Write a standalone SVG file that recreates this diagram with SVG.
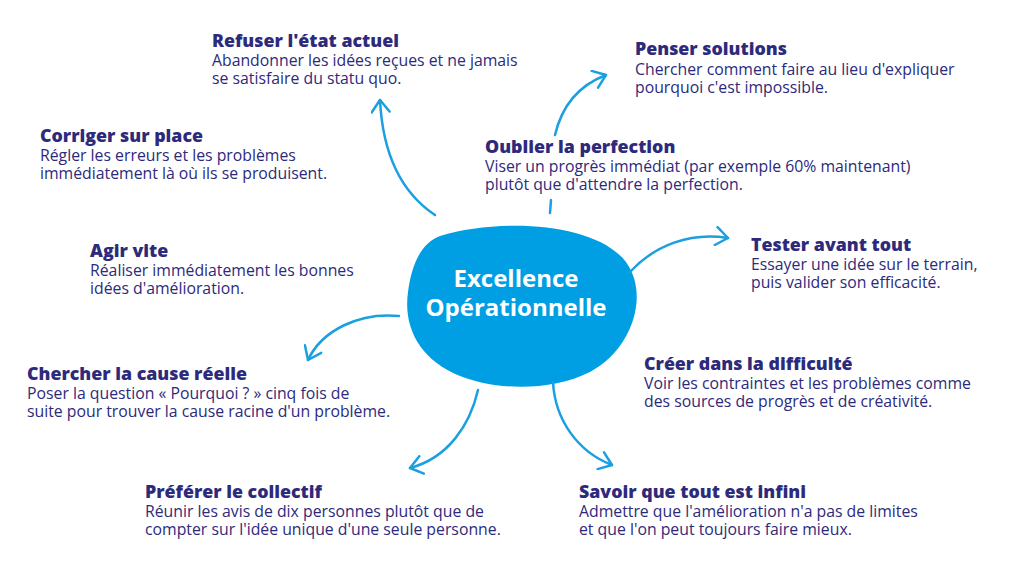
<svg xmlns="http://www.w3.org/2000/svg" width="1024" height="576" viewBox="0 0 1024 576">
<style>
.t{font-family:"Open Sans","Liberation Sans",sans-serif;font-weight:800;font-size:17.8px;fill:#2d2a7c}
.b{font-family:"Open Sans","Liberation Sans",sans-serif;font-size:15.8px;fill:#2d2a7c}
.c{font-family:"Open Sans","Liberation Sans",sans-serif;font-weight:700;font-size:24px;fill:#fff}
.a{fill:none;stroke:#1a9fe0;stroke-width:2.5;stroke-linecap:round}
</style>
<defs><marker id="m" viewBox="0 0 20 20" refX="15" refY="10" markerWidth="20" markerHeight="20" markerUnits="userSpaceOnUse" orient="auto"><path d="M3,1 L15,10 L3,19" fill="none" stroke="#1a9fe0" stroke-width="2.5" stroke-linecap="round" stroke-linejoin="round"/></marker></defs>
<rect width="1024" height="576" fill="#fff"/>
<g id="center">
<path d="M440,236 C500,218 595,222 626,262 C650,295 632,350 590,372 C550,392 495,390 460,376 C420,360 403,328 408,292 C412,262 422,243 440,236 Z" fill="#009fe3"/>
<text class="c" x="516" y="287" text-anchor="middle">Excellence</text>
<text class="c" x="516" y="316" text-anchor="middle">Opérationnelle</text>
</g>
<g id="connectors">
<path class="a" d="M435,215 C405,195 383,160 380,100" marker-end="url(#m)"/>
<path class="a" d="M550,213 L551,200"/>
<path class="a" d="M555,135 C562,105 580,85 606,75" marker-end="url(#m)"/>
<path class="a" d="M630,272 C655,245 690,232 728,238" marker-end="url(#m)"/>
<path class="a" d="M399,316 C360,312 322,330 308,360" marker-end="url(#m)"/>
<path class="a" d="M478,390 C470,425 448,458 410,468" marker-end="url(#m)"/>
<path class="a" d="M553,382 C555,420 578,452 612,465" marker-end="url(#m)"/>
</g>
<g id="n1"><text class="t" x="212" y="47">Refuser l'état actuel</text><text class="b" x="212" y="66">Abandonner les idées reçues et ne jamais</text><text class="b" x="212" y="84">se satisfaire du statu quo.</text></g>
<g id="n2"><text class="t" x="635" y="55">Penser solutions</text><text class="b" x="635" y="75">Chercher comment faire au lieu d'expliquer</text><text class="b" x="635" y="93">pourquoi c'est impossible.</text></g>
<g id="n3"><text class="t" x="40" y="142">Corriger sur place</text><text class="b" x="40" y="161">Régler les erreurs et les problèmes</text><text class="b" x="40" y="179">immédiatement là où ils se produisent.</text></g>
<g id="n4"><text class="t" x="485" y="153">Oublier la perfection</text><text class="b" x="485" y="172">Viser un progrès immédiat (par exemple 60% maintenant)</text><text class="b" x="485" y="190">plutôt que d'attendre la perfection.</text></g>
<g id="n5"><text class="t" x="90" y="257">Agir vite</text><text class="b" x="90" y="276">Réaliser immédiatement les bonnes</text><text class="b" x="90" y="294">idées d'amélioration.</text></g>
<g id="n6"><text class="t" x="751" y="251">Tester avant tout</text><text class="b" x="751" y="270">Essayer une idée sur le terrain,</text><text class="b" x="751" y="288">puis valider son efficacité.</text></g>
<g id="n7"><text class="t" x="27" y="380">Chercher la cause réelle</text><text class="b" x="27" y="399">Poser la question « Pourquoi ? » cinq fois de</text><text class="b" x="27" y="417">suite pour trouver la cause racine d'un problème.</text></g>
<g id="n8"><text class="t" x="644" y="370">Créer dans la difficulté</text><text class="b" x="644" y="389">Voir les contraintes et les problèmes comme</text><text class="b" x="644" y="407">des sources de progrès et de créativité.</text></g>
<g id="n9"><text class="t" x="145" y="498">Préférer le collectif</text><text class="b" x="145" y="517">Réunir les avis de dix personnes plutôt que de</text><text class="b" x="145" y="535">compter sur l'idée unique d'une seule personne.</text></g>
<g id="n10"><text class="t" x="579" y="498">Savoir que tout est infini</text><text class="b" x="579" y="517">Admettre que l'amélioration n'a pas de limites</text><text class="b" x="579" y="535">et que l'on peut toujours faire mieux.</text></g>
</svg>
